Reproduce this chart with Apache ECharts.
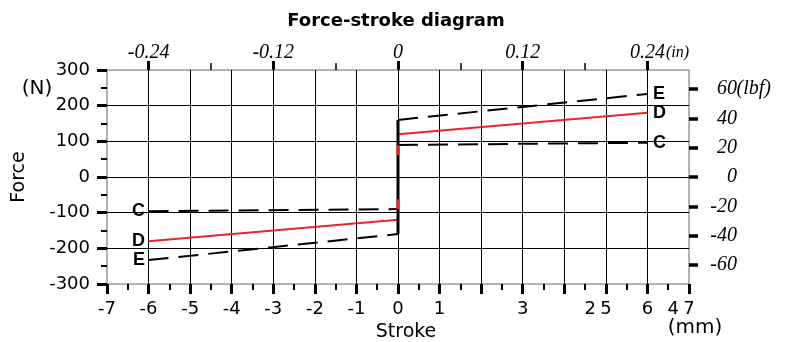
<!DOCTYPE html>
<html>
<head>
<meta charset="utf-8">
<script src="https://cdn.jsdelivr.net/npm/echarts@6/dist/echarts.min.js"></script>
<style>
  html, body { margin: 0; padding: 0; background: #fff; }
  #chart { width: 792px; height: 342px; }
</style>
</head>
<body>
<div id="chart"></div>
<script>
// Stroke (mm) and force (N) along each spring characteristic:
// outer end of compression side, start at 0, start of extension side at 0, outer end.
const strokeMm = [-6, 0, 0, 6];
const forceC = [-96, -90, 90, 96];
const forceD = [-180, -120, 120, 180];
const forceE = [-233, -160, 160, 233];

// Secondary scales
const lbfTicks = [-60, -40, -20, 0, 20, 40, 60];
const inchTicks = [-0.24, -0.12, 0, 0.12, 0.24];
const inchMinorTicks = [-0.18, -0.06, 0.06, 0.18];

const SANS = 'DejaVu Sans';
const SERIF = 'Liberation Serif';
const RED = '#e8262a';

function endLabel(name, left) {
  return {
    show: true,
    position: left ? 'left' : 'right',
    distance: left ? 3 : 5,
    formatter: name,
    fontFamily: 'Liberation Sans',
    fontWeight: 'bold',
    fontSize: 18,
    color: '#000'
  };
}

// Sloped branches on both sides of zero, broken at the jump.
function branches(name, forces, color, dashed) {
  const last = strokeMm.length - 1;
  const pts = strokeMm.map(function (x, i) {
    const item = { value: [x, forces[i]] };
    if (i === 0) item.label = endLabel(name, true);
    if (i === last) item.label = endLabel(name, false);
    return item;
  });
  return {
    name: name,
    type: 'line',
    symbol: 'circle',
    symbolSize: 1,
    showSymbol: true,
    connectNulls: false,
    itemStyle: { color: color },
    lineStyle: { color: color, width: 2, type: dashed ? [20, 10] : 'solid' },
    emphasis: { disabled: true },
    z: 5,
    data: [pts[0], pts[1], '-', pts[2], pts[3]]
  };
}

// Vertical jump at zero stroke.
function jump(name, forces, color, width, dash, dashOffset, z) {
  return {
    name: name + ' jump',
    type: 'line',
    symbol: 'none',
    lineStyle: { color: color, width: width, type: dash, dashOffset: dashOffset || 0, cap: 'butt' },
    emphasis: { disabled: true },
    z: z,
    data: [[strokeMm[1], forces[1]], [strokeMm[2], forces[2]]]
  };
}

const chart = echarts.init(document.getElementById('chart'), null, { renderer: 'canvas' });

chart.setOption({
  animation: false,
  backgroundColor: '#fff',
  title: {
    text: 'Force-stroke diagram',
    left: 'center',
    top: 7,
    textStyle: { fontFamily: SANS, fontWeight: 'bold', fontSize: 18, color: '#000' }
  },
  grid: {
    left: 107, right: 103, top: 70, bottom: 58,
    outerBoundsMode: 'none',
    containLabel: false,
    show: true, borderColor: '#666', borderWidth: 1
  },
  xAxis: [
    {
      type: 'value', position: 'bottom',
      min: -7, max: 7, interval: 1,
      name: 'Stroke', nameLocation: 'middle', nameGap: 39,
      nameTextStyle: { fontFamily: SANS, fontSize: 19, color: '#000', padding: [0, 0, 0, 16] },
      axisLine: { show: false, onZero: false },
      axisTick: { show: true, length: 10, lineStyle: { color: '#000', width: 3 } },
      minorTick: { show: true, splitNumber: 2, length: 6, lineStyle: { color: '#000', width: 2 } },
      splitLine: { show: true, showMinLine: false, showMaxLine: false, lineStyle: { color: '#000', width: 1 } },
      axisLabel: {
        margin: 16,
        fontFamily: SANS, fontSize: 18, color: '#000',
        formatter: function (v) {
          if (v === 2 || v === 4) return '{sh|' + v + '}';
          return String(v);
        },
        rich: { sh: { fontFamily: SANS, fontSize: 18, color: '#000', padding: [0, 0, 0, 218] } }
      }
    },
    {
      type: 'value', position: 'top',
      min: -0.28, max: 0.28,
      axisLine: { show: false, onZero: false },
      splitLine: { show: false },
      axisTick: { show: true, customValues: inchTicks, length: 9, lineStyle: { color: '#000', width: 3 } },
      axisLabel: {
        show: true, customValues: inchTicks, margin: 7,
        fontFamily: SERIF, fontStyle: 'italic', fontSize: 20, color: '#000',
        formatter: function (v) {
          if (v === inchTicks[inchTicks.length - 1]) return '{n|' + v + '}{u|(in)}';
          return String(v);
        },
        rich: {
          n: { fontFamily: SERIF, fontStyle: 'italic', fontSize: 20, color: '#000', padding: [0, 0, 0, 25] },
          u: { fontFamily: SERIF, fontStyle: 'italic', fontSize: 16, color: '#000', width: 25 }
        }
      }
    },
    {
      type: 'value', position: 'top',
      min: -0.28, max: 0.28,
      axisLine: { show: false, onZero: false },
      splitLine: { show: false },
      axisLabel: { show: false },
      axisTick: { show: true, customValues: inchMinorTicks, length: 7, lineStyle: { color: '#000', width: 1.5 } }
    }
  ],
  yAxis: [
    {
      type: 'value', position: 'left',
      min: -300, max: 300, interval: 100,
      name: 'Force', nameLocation: 'middle', nameGap: 78,
      nameTextStyle: { fontFamily: SANS, fontSize: 19, color: '#000' },
      axisLine: { show: false, onZero: false },
      axisTick: { show: true, length: 10, lineStyle: { color: '#000', width: 3 } },
      minorTick: { show: true, splitNumber: 2, length: 6, lineStyle: { color: '#000', width: 2 } },
      splitLine: { show: true, showMinLine: false, showMaxLine: false, lineStyle: { color: '#000', width: 1 } },
      axisLabel: { margin: 17, fontFamily: SANS, fontSize: 18, color: '#000' }
    },
    {
      type: 'value', position: 'right',
      min: -73, max: 73,
      axisLine: { show: false, onZero: false },
      splitLine: { show: false },
      axisTick: { show: true, customValues: lbfTicks, length: 9, lineStyle: { color: '#000', width: 3.5 } },
      axisLabel: {
        show: true, customValues: lbfTicks, margin: 82, align: 'right',
        fontFamily: SERIF, fontStyle: 'italic', fontSize: 20, color: '#000',
        formatter: function (v) {
          if (v === lbfTicks[lbfTicks.length - 1]) return '{n|' + v + '}{u|(lbf)}';
          return '{n|' + v + '}{s|}';
        },
        rich: {
          n: { fontFamily: SERIF, fontStyle: 'italic', fontSize: 20, color: '#000' },
          u: { fontFamily: SERIF, fontStyle: 'italic', fontSize: 20, color: '#000', width: 34 },
          s: { width: 34 }
        }
      }
    }
  ],
  graphic: [
    {
      type: 'text', x: 37, y: 89,
      style: { text: '(N)', fontFamily: SANS, fontSize: 20, fill: '#000', align: 'center', verticalAlign: 'middle' }
    },
    {
      type: 'text', x: 695, y: 328,
      style: { text: '(mm)', fontFamily: SANS, fontSize: 20, fill: '#000', align: 'center', verticalAlign: 'middle' }
    }
  ],
  series: [
    branches('D', forceD, RED, false),
    branches('C', forceC, '#000', true),
    branches('E', forceE, '#000', true),
    jump('E', forceE, '#000', 3, 'solid', 0, 6),
    jump('D', forceD, RED, 3, [10, 44], 43.4, 7)
  ]
});
</script>
</body>
</html>
